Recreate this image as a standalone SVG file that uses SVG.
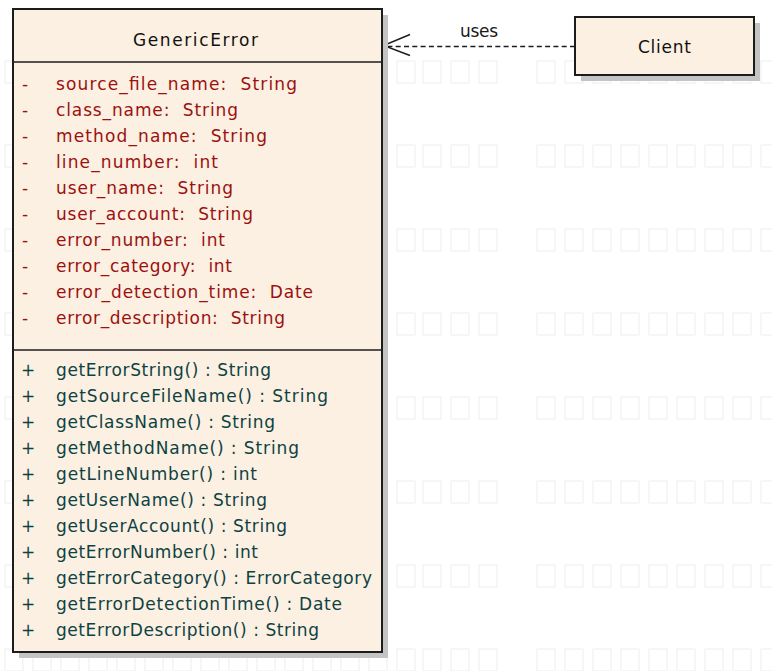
<svg xmlns="http://www.w3.org/2000/svg" width="772" height="671" viewBox="0 0 772 671">
  <style>
    .bg { fill: #ffffff; }
    .cell { fill: none; stroke: #f1f1f1; stroke-width: 1.2; }
    .shadow { fill: #c4c4c4; }
    .box { fill: #fbf0e2; stroke: #1c1c1c; stroke-width: 2; }
    .sep { stroke: #1c1c1c; stroke-width: 1.6; }
    .txt { font-family: "DejaVu Sans", Verdana, sans-serif; font-size: 17px; }
    .title { fill: #111111; }
    .attr { fill: #9c1010; }
    .op { fill: #0e4242; }
    .lbl { fill: #1a1a1a; }
    .dep { fill: none; stroke: #1c1c1c; stroke-width: 1.6; stroke-dasharray: 5 3.3; }
    .head { fill: none; stroke: #1c1c1c; stroke-width: 1.4; }
  </style>
  <defs>
    <!-- one faint background row of cells -->
    <g id="cellRow">
      <rect class="cell" x="5" y="0" width="18" height="22"/>
      <rect class="cell" x="33" y="0" width="18" height="22"/>
      <rect class="cell" x="61" y="0" width="18" height="22"/>
      <rect class="cell" x="89" y="0" width="18" height="22"/>
      <rect class="cell" x="117" y="0" width="18" height="22"/>
      <rect class="cell" x="145" y="0" width="18" height="22"/>
      <rect class="cell" x="173" y="0" width="18" height="22"/>
      <rect class="cell" x="201" y="0" width="18" height="22"/>
      <rect class="cell" x="229" y="0" width="18" height="22"/>
      <rect class="cell" x="257" y="0" width="18" height="22"/>
      <rect class="cell" x="285" y="0" width="18" height="22"/>
      <rect class="cell" x="313" y="0" width="18" height="22"/>
      <rect class="cell" x="341" y="0" width="18" height="22"/>
      <rect class="cell" x="369" y="0" width="18" height="22"/>
      <rect class="cell" x="397" y="0" width="18" height="22"/>
      <rect class="cell" x="423" y="0" width="18" height="22"/>
      <rect class="cell" x="451" y="0" width="18" height="22"/>
      <rect class="cell" x="479" y="0" width="18" height="22"/>
      <rect class="cell" x="537" y="0" width="18" height="22"/>
      <rect class="cell" x="565" y="0" width="18" height="22"/>
      <rect class="cell" x="593" y="0" width="18" height="22"/>
      <rect class="cell" x="621" y="0" width="18" height="22"/>
      <rect class="cell" x="649" y="0" width="18" height="22"/>
      <rect class="cell" x="677" y="0" width="18" height="22"/>
      <rect class="cell" x="705" y="0" width="18" height="22"/>
      <rect class="cell" x="733" y="0" width="18" height="22"/>
      <rect class="cell" x="761" y="0" width="18" height="22"/>
    </g>
  </defs>

  <rect class="bg" x="0" y="0" width="772" height="671"/>

  <!-- background cell pattern -->
  <g id="backdrop">
    <use href="#cellRow" y="61"/>
    <use href="#cellRow" y="145"/>
    <use href="#cellRow" y="229"/>
    <use href="#cellRow" y="313"/>
    <use href="#cellRow" y="397"/>
    <use href="#cellRow" y="481"/>
    <use href="#cellRow" y="565"/>
    <use href="#cellRow" y="649"/>
  </g>

  <!-- dependency: Client uses GenericError -->
  <g id="connectors">
    <line class="dep" x1="575" y1="46.5" x2="385" y2="46.5"/>
    <polyline class="head" points="410,34.5 383.5,45.5 410,55.5"/>
    <text class="txt lbl" x="460" y="37" textLength="38" lengthAdjust="spacing">uses</text>
  </g>

  <!-- class GenericError -->
  <g id="GenericError">
    <rect class="shadow" x="19" y="15" width="369" height="643"/>
    <rect class="box" x="13" y="9" width="369" height="643"/>
    <line class="sep" x1="13" y1="62" x2="382" y2="62"/>
    <line class="sep" x1="13" y1="350" x2="382" y2="350"/>
    <text class="txt title" x="133" y="45.5" textLength="125" lengthAdjust="spacing">GenericError</text>

    <g class="txt attr">
      <text x="22" y="90">-</text>
      <text x="22" y="116">-</text>
      <text x="22" y="142">-</text>
      <text x="22" y="168">-</text>
      <text x="22" y="194">-</text>
      <text x="22" y="220">-</text>
      <text x="22" y="246">-</text>
      <text x="22" y="272">-</text>
      <text x="22" y="298">-</text>
      <text x="22" y="324">-</text>
      <text x="56" y="90" textLength="241" lengthAdjust="spacing">source_file_name:&#160; String</text>
      <text x="56" y="116" textLength="182" lengthAdjust="spacing">class_name:&#160; String</text>
      <text x="56" y="142" textLength="211" lengthAdjust="spacing">method_name:&#160; String</text>
      <text x="56" y="168" textLength="162" lengthAdjust="spacing">line_number:&#160; int</text>
      <text x="56" y="194" textLength="177" lengthAdjust="spacing">user_name:&#160; String</text>
      <text x="56" y="220" textLength="197" lengthAdjust="spacing">user_account:&#160; String</text>
      <text x="56" y="246" textLength="169" lengthAdjust="spacing">error_number:&#160; int</text>
      <text x="56" y="272" textLength="176" lengthAdjust="spacing">error_category:&#160; int</text>
      <text x="56" y="298" textLength="257" lengthAdjust="spacing">error_detection_time:&#160; Date</text>
      <text x="56" y="324" textLength="229" lengthAdjust="spacing">error_description:&#160; String</text>
    </g>

    <g class="txt op">
      <text x="21" y="376">+</text>
      <text x="21" y="402">+</text>
      <text x="21" y="428">+</text>
      <text x="21" y="454">+</text>
      <text x="21" y="480">+</text>
      <text x="21" y="506">+</text>
      <text x="21" y="532">+</text>
      <text x="21" y="558">+</text>
      <text x="21" y="584">+</text>
      <text x="21" y="610">+</text>
      <text x="21" y="636">+</text>
      <text x="56" y="376" textLength="215" lengthAdjust="spacing">getErrorString() : String</text>
      <text x="56" y="402" textLength="272" lengthAdjust="spacing">getSourceFileName() : String</text>
      <text x="56" y="428" textLength="219" lengthAdjust="spacing">getClassName() : String</text>
      <text x="56" y="454" textLength="243" lengthAdjust="spacing">getMethodName() : String</text>
      <text x="56" y="480" textLength="201" lengthAdjust="spacing">getLineNumber() : int</text>
      <text x="56" y="506" textLength="211" lengthAdjust="spacing">getUserName() : String</text>
      <text x="56" y="532" textLength="231" lengthAdjust="spacing">getUserAccount() : String</text>
      <text x="56" y="558" textLength="202" lengthAdjust="spacing">getErrorNumber() : int</text>
      <text x="56" y="584" textLength="316" lengthAdjust="spacing">getErrorCategory() : ErrorCategory</text>
      <text x="56" y="610" textLength="286" lengthAdjust="spacing">getErrorDetectionTime() : Date</text>
      <text x="56" y="636" textLength="263" lengthAdjust="spacing">getErrorDescription() : String</text>
    </g>
  </g>

  <!-- class Client -->
  <g id="Client">
    <rect class="shadow" x="581" y="23" width="179" height="58"/>
    <rect class="box" x="575" y="17" width="179" height="58"/>
    <text class="txt title" x="638" y="53" textLength="53" lengthAdjust="spacing">Client</text>
  </g>
</svg>
